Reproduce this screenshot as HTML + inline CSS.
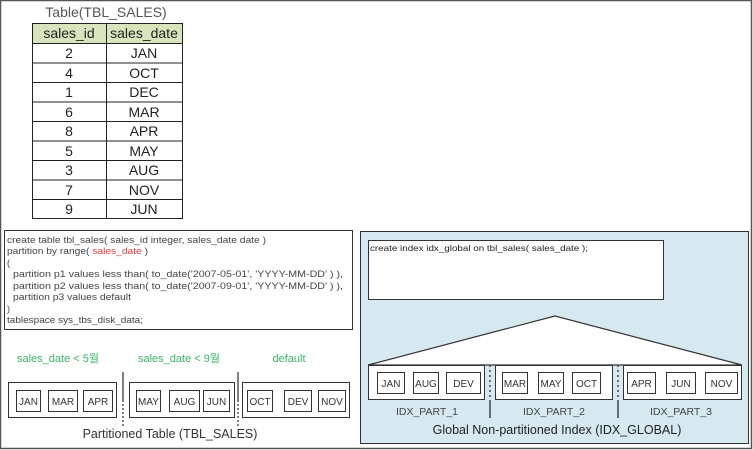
<!DOCTYPE html>
<html><head><meta charset="utf-8"><style>
body{margin:0;width:753px;height:450px;background:#fff;overflow:hidden;position:relative;font-family:"Liberation Sans","Noto Sans CJK KR",sans-serif}
</style></head><body>
<svg width="753" height="450" style="position:absolute;left:0;top:0" font-family="Liberation Sans, Noto Sans CJK KR, sans-serif">
<rect x="0.5" y="0.5" width="751" height="448" fill="#fff" stroke="#555" stroke-width="1.5"/>
<!-- table -->
<text x="106" y="17" font-size="14" fill="#555" text-anchor="middle">Table(TBL_SALES)</text>
<rect x="32" y="23" width="150" height="20" fill="#d8e4bc"/>
<g stroke="#222" stroke-width="1" fill="none">
<rect x="32.5" y="23.5" width="150" height="195"/>
<line x1="106.5" y1="23" x2="106.5" y2="218"/>
<line x1="32" y1="43.5" x2="182" y2="43.5"/><line x1="32" y1="63" x2="182" y2="63"/><line x1="32" y1="82.5" x2="182" y2="82.5"/><line x1="32" y1="102" x2="182" y2="102"/><line x1="32" y1="121.5" x2="182" y2="121.5"/><line x1="32" y1="141" x2="182" y2="141"/><line x1="32" y1="160.5" x2="182" y2="160.5"/><line x1="32" y1="180" x2="182" y2="180"/><line x1="32" y1="199.5" x2="182" y2="199.5"/>
</g>
<g font-size="14" fill="#222" text-anchor="middle">
<text x="69" y="38">sales_id</text><text x="144" y="38">sales_date</text>
<text x="69" y="58">2</text><text x="144" y="58">JAN</text>
<text x="69" y="78">4</text><text x="144" y="78">OCT</text>
<text x="69" y="97">1</text><text x="144" y="97">DEC</text>
<text x="69" y="117">6</text><text x="144" y="117">MAR</text>
<text x="69" y="136">8</text><text x="144" y="136">APR</text>
<text x="69" y="156">5</text><text x="144" y="156">MAY</text>
<text x="69" y="175">3</text><text x="144" y="175">AUG</text>
<text x="69" y="195">7</text><text x="144" y="195">NOV</text>
<text x="69" y="214">9</text><text x="144" y="214">JUN</text>
</g>
<!-- left code -->
<rect x="4.5" y="230.5" width="348" height="99" fill="#fff" stroke="#333"/>
<g font-size="9" fill="#444" lengthAdjust="spacingAndGlyphs">
<text x="7" y="243" textLength="259" lengthAdjust="spacingAndGlyphs">create table tbl_sales( sales_id integer, sales_date date )</text>
<text x="7" y="254" textLength="141" lengthAdjust="spacingAndGlyphs">partition by range( <tspan fill="#e04040">sales_date</tspan> )</text>
<text x="7" y="266">(</text>
<text x="13" y="277" textLength="330" lengthAdjust="spacingAndGlyphs">partition p1 values less than( to_date('2007-05-01', 'YYYY-MM-DD' ) ),</text>
<text x="13" y="289" textLength="330" lengthAdjust="spacingAndGlyphs">partition p2 values less than( to_date('2007-09-01', 'YYYY-MM-DD' ) ),</text>
<text x="13" y="300" textLength="118" lengthAdjust="spacingAndGlyphs">partition p3 values default</text>
<text x="7" y="312">)</text>
<text x="7" y="323" textLength="136" lengthAdjust="spacingAndGlyphs">tablespace sys_tbs_disk_data;</text>
</g>
<g font-size="11" fill="#3cb864" text-anchor="middle">
<text x="58" y="362">sales_date &lt; 5월</text><text x="179" y="362">sales_date &lt; 9월</text><text x="289" y="362">default</text>
</g>
<g stroke="#333" fill="#fff">
<rect x="8.5" y="382.5" width="108" height="35"/><rect x="129.5" y="382.5" width="105" height="35"/><rect x="242.5" y="382.5" width="107" height="35"/>
<rect x="16.5" y="390.5" width="24" height="21"/><rect x="48.5" y="390.5" width="29" height="21"/><rect x="83.5" y="390.5" width="29" height="21"/>
<rect x="136.5" y="390.5" width="24" height="21"/><rect x="169.5" y="390.5" width="30" height="21"/><rect x="203.5" y="390.5" width="26" height="21"/>
<rect x="247.5" y="390.5" width="25" height="21"/><rect x="284.5" y="390.5" width="27" height="21"/><rect x="318.5" y="390.5" width="27" height="21"/>
</g>
<g stroke="#555" stroke-width="1.5">
<line x1="123" y1="372" x2="123" y2="400"/><line x1="123" y1="400" x2="123" y2="428" stroke-dasharray="2,2"/>
<line x1="238" y1="372" x2="238" y2="400"/><line x1="238" y1="400" x2="238" y2="428" stroke-dasharray="2,2"/>
</g>
<g font-size="10" fill="#333" text-anchor="middle">
<text x="28.5" y="405">JAN</text><text x="63" y="405">MAR</text><text x="98" y="405">APR</text>
<text x="148.5" y="405">MAY</text><text x="184.5" y="405">AUG</text><text x="216.5" y="405">JUN</text>
<text x="260" y="405">OCT</text><text x="298" y="405">DEV</text><text x="332" y="405">NOV</text>
</g>
<text x="170" y="438" font-size="12.5" fill="#333" text-anchor="middle">Partitioned Table (TBL_SALES)</text>
<!-- right -->
<rect x="360.5" y="231.5" width="388" height="212" fill="#d6e9f1" stroke="#333"/>
<rect x="368.5" y="240.5" width="295" height="59" fill="#fff" stroke="#333"/>
<text x="370" y="251" font-size="8.5" fill="#222" textLength="218" lengthAdjust="spacingAndGlyphs">create index idx_global on tbl_sales( sales_date );</text>
<polygon points="555,316 368,365 742,365" fill="#fff" stroke="#333" stroke-width="1.2"/>
<g stroke="#333" fill="#fff">
<rect x="368.5" y="365.5" width="116" height="34"/><rect x="495.5" y="365.5" width="117" height="34"/><rect x="623.5" y="365.5" width="118" height="34"/>
<rect x="377.5" y="372.5" width="27" height="21"/><rect x="413.5" y="372.5" width="25" height="21"/><rect x="446.5" y="372.5" width="34" height="21"/>
<rect x="502.5" y="372.5" width="25" height="21"/><rect x="538.5" y="372.5" width="25" height="21"/><rect x="572.5" y="372.5" width="28" height="21"/>
<rect x="627.5" y="372.5" width="28" height="21"/><rect x="666.5" y="372.5" width="29" height="21"/><rect x="705.5" y="372.5" width="32" height="21"/>
</g>
<g stroke="#444" stroke-width="1.5">
<line x1="490" y1="365" x2="490" y2="400" stroke-dasharray="2,3"/><line x1="490" y1="400" x2="490" y2="418"/>
<line x1="618" y1="365" x2="618" y2="400" stroke-dasharray="2,3"/><line x1="618" y1="400" x2="618" y2="418"/>
</g>
<g font-size="10" fill="#333" text-anchor="middle">
<text x="391" y="387">JAN</text><text x="426" y="387">AUG</text><text x="463.5" y="387">DEV</text>
<text x="515" y="387">MAR</text><text x="551" y="387">MAY</text><text x="586.5" y="387">OCT</text>
<text x="641.5" y="387">APR</text><text x="681" y="387">JUN</text><text x="721.5" y="387">NOV</text>
</g>
<g font-size="10.5" fill="#444" text-anchor="middle">
<text x="427" y="415">IDX_PART_1</text><text x="554" y="415">IDX_PART_2</text><text x="681" y="415">IDX_PART_3</text>
</g>
<text x="557" y="434" font-size="12.5" fill="#222" text-anchor="middle">Global Non-partitioned Index (IDX_GLOBAL)</text>
</svg>
</body></html>
